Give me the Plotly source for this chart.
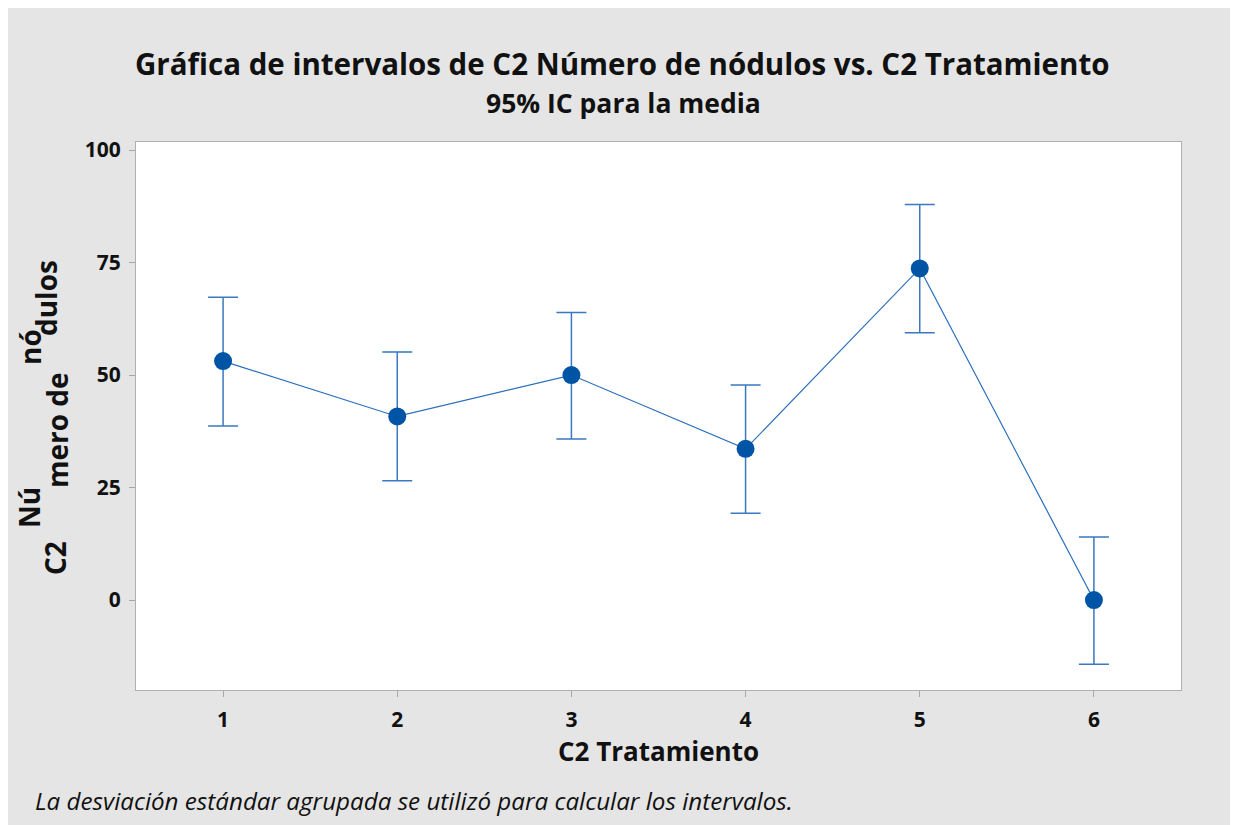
import plotly.graph_objects as go

# Data
tratamiento = [1, 2, 3, 4, 5, 6]
media = [53.1, 40.8, 50.0, 33.6, 73.7, 0.0]
ic_superior = [67.3, 55.1, 63.9, 47.8, 87.9, 14.0]
ic_inferior = [38.7, 26.5, 35.8, 19.3, 59.4, -14.3]
xtick_labels = ["1", "2", "3", "4", "5", "6"]
ytick_vals = [0, 25, 50, 75, 100]

W, H = 1246, 825
OFF = 8  # page body margin
ML, MR, MT, MB = 128, 73, 134, 143
PW, PH = W - ML - MR, H - MT - MB

def px(x):
    return (x - OFF - ML) / PW

def py(y):
    return (H - MB - (y - OFF)) / PH

FONT = "Open Sans"

err_plus = [u - m for u, m in zip(ic_superior, media)]
err_minus = [m - l for m, l in zip(media, ic_inferior)]

fig = go.Figure()
fig.add_trace(go.Scatter(
    x=tratamiento, y=media, mode="lines+markers",
    line=dict(color="#2a6ebb", width=1.2),
    marker=dict(color="#0054A6", size=18, line=dict(width=0)),
    error_y=dict(type="data", symmetric=False, array=err_plus, arrayminus=err_minus,
                 color="#3a78c0", thickness=1.5, width=15),
    showlegend=False, hoverinfo="x+y",
))

ann = []
ann.append(dict(text="<b>Gráfica de intervalos de C2 Número de nódulos vs. C2 Tratamiento</b>",
                x=px(622), y=py(64), xref="paper", yref="paper", showarrow=False,
                xanchor="center", yanchor="middle", font=dict(family=FONT, size=29.5, color="#111111")))
ann.append(dict(text="<b>95% IC para la media</b>",
                x=px(623), y=py(103), xref="paper", yref="paper", showarrow=False,
                xanchor="center", yanchor="middle", font=dict(family=FONT, size=26.5, color="#111111")))
ann.append(dict(text="<i>La desviación estándar agrupada se utilizó para calcular los intervalos.</i>",
                x=px(33), y=py(800), xref="paper", yref="paper", showarrow=False,
                xanchor="left", yanchor="middle", font=dict(family=FONT, size=24.2, color="#111111")))
# Y-axis title fragments (as rendered in the reference)
ylab = [("C2", 55, 558), ("Nú", 29, 508), ("mero de", 57, 430), ("nó", 30, 347), ("dulos", 46, 298)]
for t, xx, yy in ylab:
    ann.append(dict(text="<b>" + t + "</b>", x=px(xx), y=py(yy), xref="paper", yref="paper",
                    showarrow=False, textangle=-90, xanchor="center", yanchor="middle",
                    font=dict(family=FONT, size=28, color="#111111")))

fig.update_layout(
    width=W, height=H,
    margin=dict(l=ML, r=MR, t=MT, b=MB, pad=0),
    paper_bgcolor="#e5e5e5", plot_bgcolor="white",
    font=dict(family=FONT, color="#111111"),
    annotations=ann,
    xaxis=dict(range=[0.5, 6.5], tickvals=tratamiento, ticktext=xtick_labels,
               ticks="outside", ticklen=6, tickcolor="#a8a8a8", tickwidth=1,
               ticklabelstandoff=5,
               showline=True, linecolor="#b0b0b0", linewidth=1, mirror=True,
               showgrid=False, zeroline=False,
               tickfont=dict(family=FONT, size=21, color="#111111", weight="bold"),
               title=dict(text="<b>C2 Tratamiento</b>", standoff=8,
                          font=dict(family=FONT, size=26, color="#111111"))),
    yaxis=dict(range=[-20, 101.8], tickvals=ytick_vals,
               ticks="outside", ticklen=6, tickcolor="#a8a8a8", tickwidth=1,
               ticklabelstandoff=4,
               showline=True, linecolor="#b0b0b0", linewidth=1, mirror=True,
               showgrid=False, zeroline=False,
               tickfont=dict(family=FONT, size=21, color="#111111", weight="bold")),
)

fig.write_html("out.html")
